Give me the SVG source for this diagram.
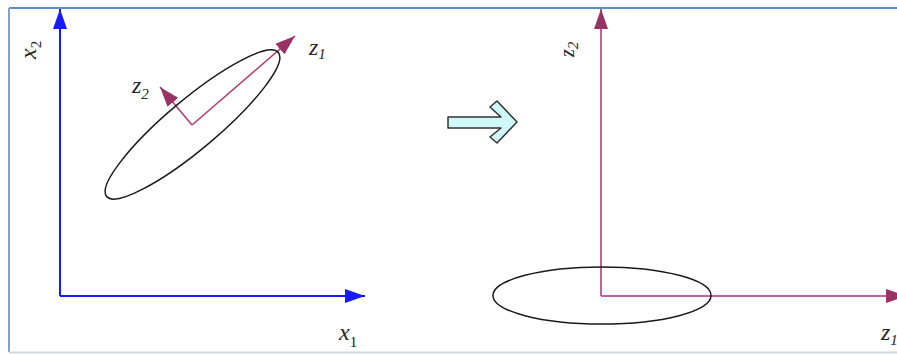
<svg xmlns="http://www.w3.org/2000/svg" width="897" height="354" viewBox="0 0 897 354">
<style>
.lbl{font-family:"Liberation Serif","Times New Roman",serif;font-style:italic;font-size:24px;fill:#222}
.sub{font-size:15px}
.up{font-style:normal}
.blue{stroke:#1a1aff;stroke-width:2;fill:none}
.zl{stroke:#b03a72;stroke-width:1.5;fill:none}
.zr{stroke:#c8609a;stroke-width:2;fill:none}
.ell{stroke:#1a1a1a;stroke-width:1.5;fill:none}
</style>
<defs>
<marker id="ab" markerUnits="userSpaceOnUse" markerWidth="20" markerHeight="14" refX="20" refY="7" orient="auto"><path d="M0,0 L20,7 L0,14 z" fill="#1a1aff"/></marker>
<marker id="ap" markerUnits="userSpaceOnUse" markerWidth="20" markerHeight="14" refX="20" refY="7" orient="auto"><path d="M0,0 L20,7 L0,14 z" fill="#993366"/></marker>
</defs>
<rect width="897" height="354" fill="#fff"/>
<g id="frame">
<line x1="9" y1="8" x2="897" y2="8" stroke="#5b8ccc" stroke-width="2"/>
<line x1="9" y1="8" x2="9" y2="352" stroke="#7fa2d4" stroke-width="2"/>
<line x1="9" y1="352.5" x2="897" y2="352.5" stroke="#cfd8e2" stroke-width="2"/>
</g>
<g id="connectors">
<line class="blue" x1="60" y1="296" x2="60" y2="9" marker-end="url(#ab)"/>
<line class="blue" x1="60" y1="296" x2="365" y2="296" marker-end="url(#ab)"/>
<line class="zl" x1="192" y1="125" x2="295" y2="36" marker-end="url(#ap)"/>
<line class="zl" x1="192" y1="125" x2="160" y2="87" marker-end="url(#ap)"/>
<line class="zr" x1="601" y1="296" x2="601" y2="9" marker-end="url(#ap)"/>
<line class="zr" x1="601" y1="296" x2="906" y2="296" marker-end="url(#ap)"/>
</g>
<g id="ellipse-left"><ellipse class="ell" cx="192.5" cy="124.5" rx="112" ry="25" transform="rotate(-40 192.5 124.5)"/></g>
<g id="ellipse-right"><ellipse class="ell" cx="602" cy="295.5" rx="109" ry="28.5"/></g>
<g id="transform-arrow"><path d="M448,117 L501,117 L490,107 L497,101 L517,122 L497,143 L490,137 L501,128 L448,128 Z" fill="#cff8f8" stroke="#333" stroke-width="1.5" stroke-linejoin="round"/></g>
<g id="labels">
<text class="lbl" transform="translate(36,59) rotate(-90)">x<tspan class="sub up" dy="5">2</tspan></text>
<text class="lbl" x="339" y="340">x<tspan class="sub up" dy="7">1</tspan></text>
<text class="lbl" x="309" y="55">z<tspan class="sub" dy="4">1</tspan></text>
<text class="lbl" x="132" y="93">z<tspan class="sub" dy="6">2</tspan></text>
<text class="lbl" transform="translate(574,57) rotate(-90)" style="font-size:20px">z<tspan class="sub" dy="4">2</tspan></text>
<text class="lbl" x="881" y="340">z<tspan class="sub" dy="5">1</tspan></text>
</g>
</svg>
